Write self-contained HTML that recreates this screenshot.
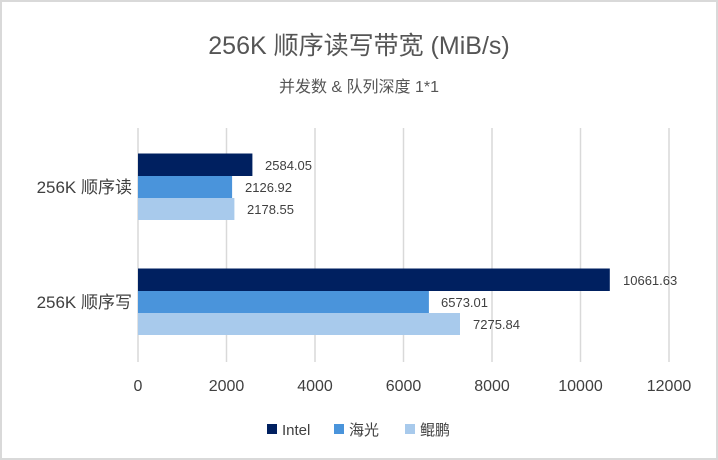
<!DOCTYPE html><html><head><meta charset="utf-8"><style>
body{margin:0;background:#fff}
svg{display:block;font-family:"Liberation Sans","Noto Sans CJK SC",sans-serif}
</style></head><body>
<svg width="718" height="460" viewBox="0 0 718 460">
<rect x="1" y="1" width="716" height="458" fill="#fff" stroke="#d9d9d9" stroke-width="2"/>
<text x="359" y="54" text-anchor="middle" font-size="25" fill="#555">256K 顺序读写带宽 (MiB/s)</text>
<text x="359" y="92" text-anchor="middle" font-size="16" fill="#555">并发数 &amp; 队列深度 1*1</text>
<g stroke="#d9d9d9" stroke-width="1.5">
<line x1="138" y1="128" x2="138" y2="362"/><line x1="226.5" y1="128" x2="226.5" y2="362"/><line x1="315" y1="128" x2="315" y2="362"/><line x1="403.5" y1="128" x2="403.5" y2="362"/><line x1="492" y1="128" x2="492" y2="362"/><line x1="580.5" y1="128" x2="580.5" y2="362"/><line x1="669" y1="128" x2="669" y2="362"/>
</g>
<rect x="138" y="153.5" width="114.4" height="22.5" fill="#002060"/>
<rect x="138" y="176" width="94.1" height="22" fill="#4a94db"/>
<rect x="138" y="198" width="96.4" height="22" fill="#a8caec"/>
<rect x="138" y="268.5" width="471.8" height="22.5" fill="#002060"/>
<rect x="138" y="291" width="290.9" height="22" fill="#4a94db"/>
<rect x="138" y="313" width="322" height="22" fill="#a8caec"/>
<g font-size="13" fill="#404040">
<text x="265" y="170">2584.05</text><text x="245" y="192">2126.92</text><text x="247" y="214">2178.55</text>
<text x="623" y="285">10661.63</text><text x="441" y="307">6573.01</text><text x="473" y="329">7275.84</text>
</g>
<g font-size="17" fill="#404040" text-anchor="end">
<text x="132" y="193">256K 顺序读</text><text x="132" y="308">256K 顺序写</text>
</g>
<g font-size="16" fill="#404040" text-anchor="middle">
<text x="138" y="391">0</text><text x="226.5" y="391">2000</text><text x="315" y="391">4000</text><text x="403.5" y="391">6000</text><text x="492" y="391">8000</text><text x="580.5" y="391">10000</text><text x="669" y="391">12000</text>
</g>
<g font-size="15" fill="#404040">
<rect x="267" y="424" width="10" height="10" fill="#002060"/><text x="282" y="435">Intel</text>
<rect x="334" y="424" width="10" height="10" fill="#4a94db"/><text x="349" y="435">海光</text>
<rect x="405" y="424" width="10" height="10" fill="#a8caec"/><text x="420" y="435">鲲鹏</text>
</g>
</svg></body></html>
